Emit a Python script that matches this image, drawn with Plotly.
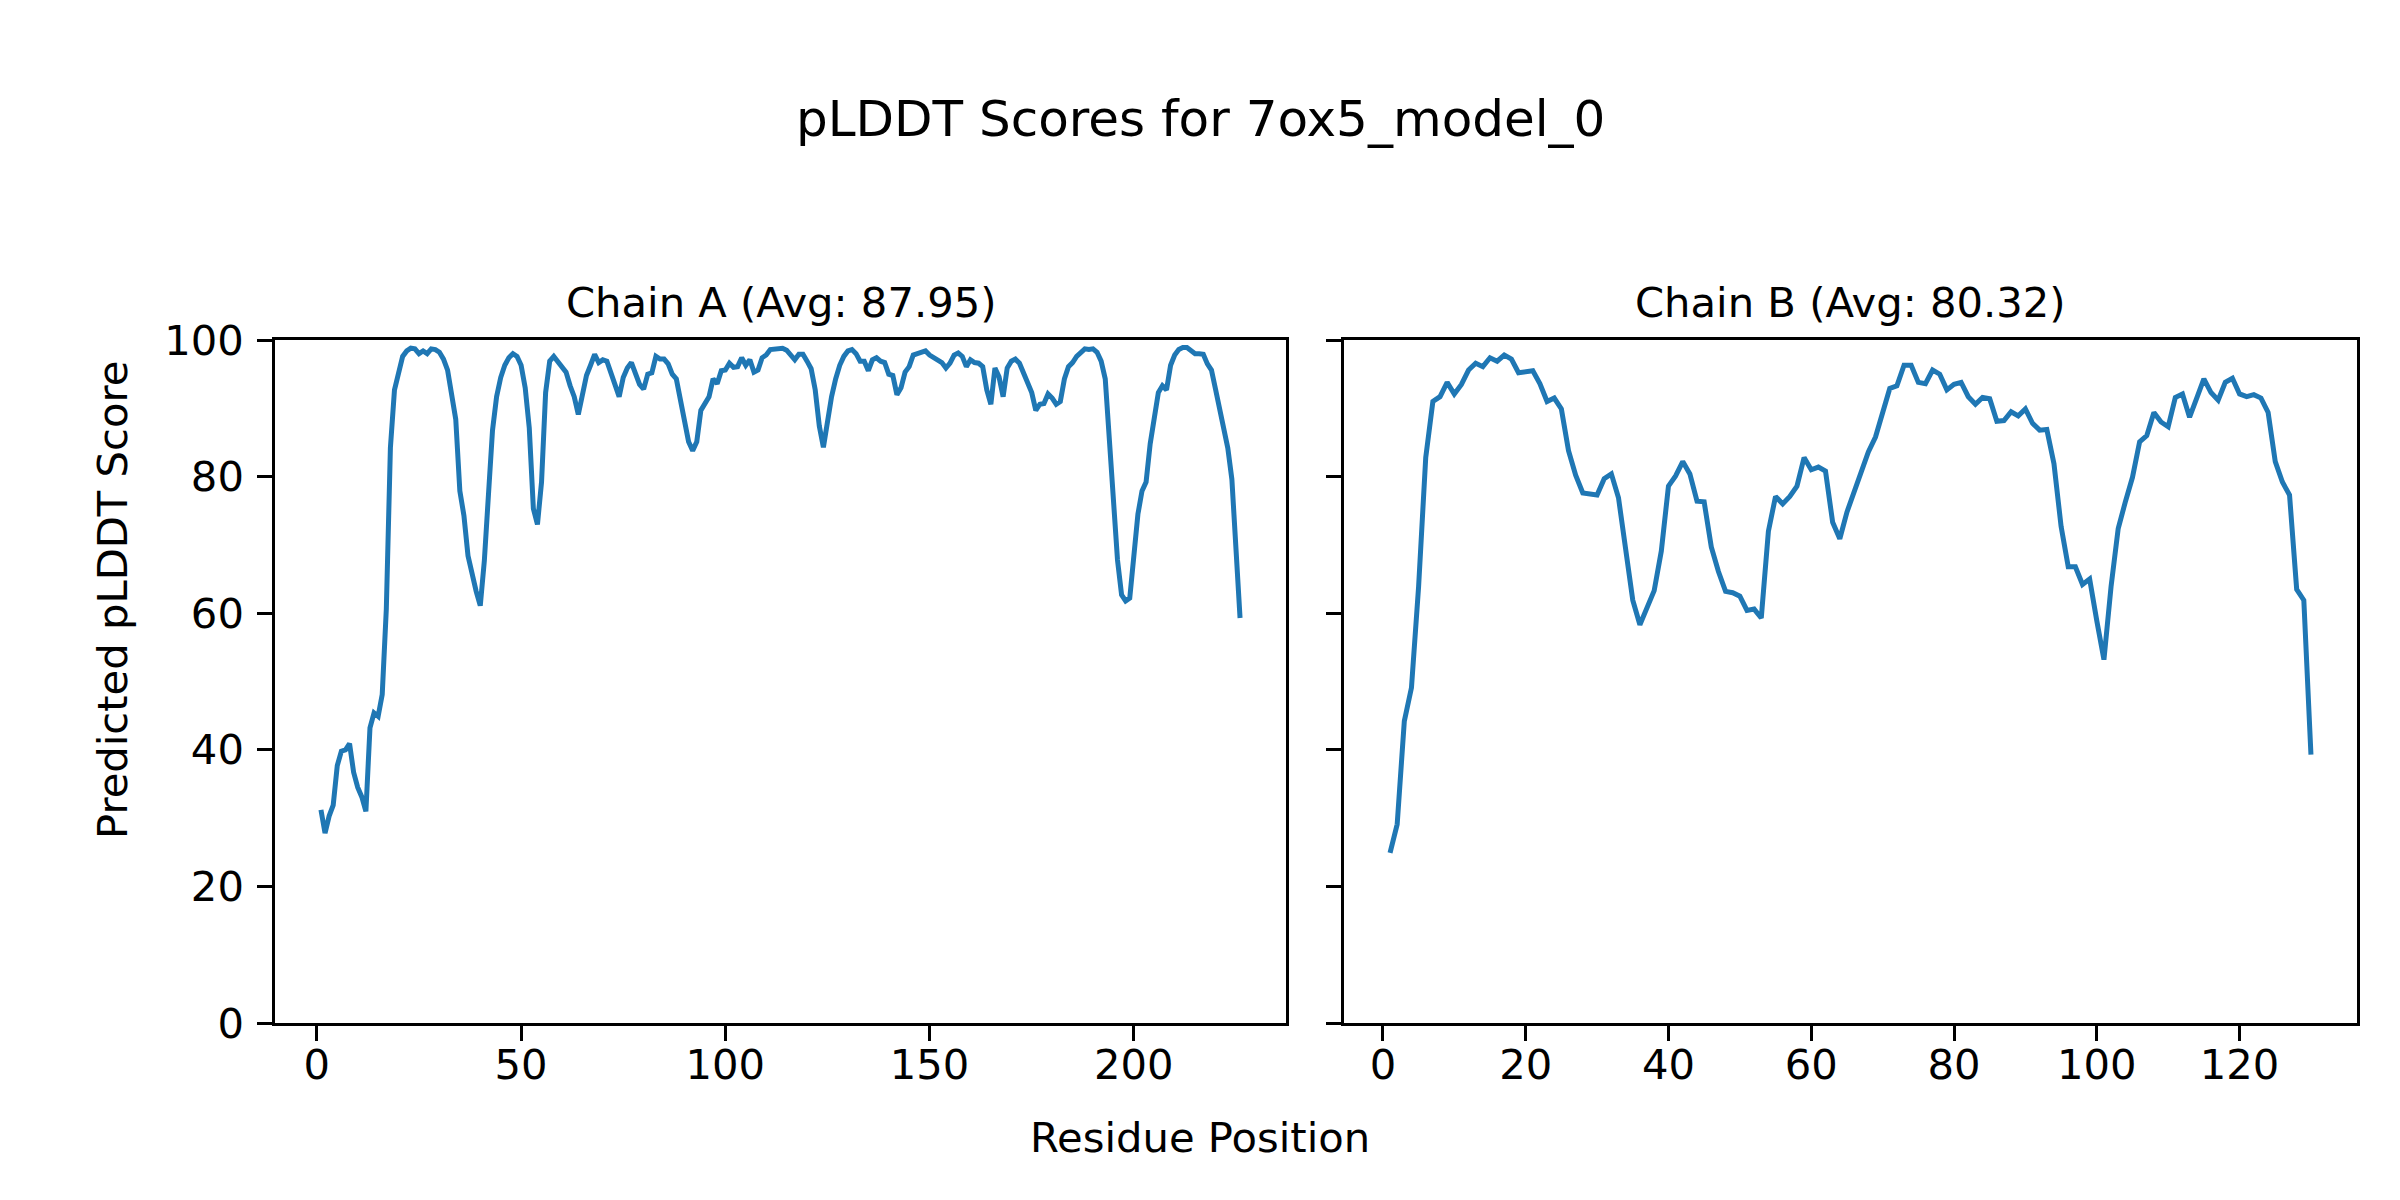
import plotly.graph_objects as go

# ---------------- data ----------------
chain_a_scores = [
    31.2, 27.8, 30.3, 31.9, 37.7, 39.8, 40.0, 40.9, 36.7, 34.5,
    33.1, 31.0, 43.2, 45.4, 44.9, 48.1, 60.6, 84.2, 92.7, 95.6,
    97.6, 98.4, 98.8, 98.7, 98.0, 98.4, 98.0, 98.7, 98.6, 98.2,
    97.2, 95.6, 91.7, 88.4, 77.9, 74.3, 68.4, 65.5, 63.2, 61.1,
    67.7, 77.3, 86.8, 91.7, 94.5, 96.3, 97.4, 98.0, 97.6, 96.3,
    93.0, 87.1, 75.3, 73.0, 79.2, 92.3, 96.9, 97.6, 96.9, 96.1,
    95.3, 93.3, 91.7, 89.1, 92.0, 94.8, 96.3, 97.9, 96.7, 97.1,
    96.9, 95.3, 93.6, 91.7, 94.5, 95.9, 96.7, 95.3, 93.5, 92.8,
    95.0, 95.2, 97.6, 97.2, 97.2, 96.5, 95.0, 94.3, 91.0, 87.8,
    85.1, 83.8, 85.1, 89.7, 90.7, 91.7, 94.3, 93.6, 95.5, 95.6,
    96.6, 96.0, 96.1, 97.4, 96.3, 97.1, 95.3, 95.6, 97.4, 97.8,
    98.6, 98.7, 98.7, 98.8, 98.5, 97.9, 97.1, 97.9, 97.9, 96.9,
    95.8, 92.7, 87.4, 84.3, 88.1, 91.7, 94.3, 96.3, 97.6, 98.4,
    98.6, 98.0, 96.9, 96.9, 95.5, 97.1, 97.4, 96.9, 96.7, 95.0,
    94.8, 92.0, 93.0, 95.3, 96.1, 97.8, 98.0, 98.2, 98.4, 97.8,
    97.4, 97.1, 96.7, 95.9, 96.6, 97.8, 98.1, 97.6, 96.1, 97.1,
    96.7, 96.6, 96.1, 92.7, 90.6, 95.9, 94.6, 91.7, 95.9, 96.9,
    97.2, 96.6, 95.3, 94.0, 92.3, 89.7, 90.6, 90.7, 92.1, 91.5,
    90.6, 91.0, 94.3, 96.1, 96.7, 97.6, 98.1, 98.7, 98.6, 98.7,
    98.2, 96.9, 94.3, 85.5, 74.3, 67.8, 62.7, 61.8, 62.2, 69.4,
    74.5, 77.9, 79.2, 84.8, 89.1, 92.3, 93.3, 92.7, 96.3, 97.8,
    98.6, 98.9, 98.9, 98.4, 98.0, 98.0, 97.9, 96.5, 95.6, 92.8,
    89.7, 86.8, 84.2, 79.6, 69.7, 59.3,
]

chain_b_scores = [
    24.9, 29.1, 44.2, 49.1, 63.9, 82.8, 91.0, 91.7, 93.8, 92.1,
    93.5, 95.6, 96.6, 96.1, 97.4, 96.9, 97.8, 97.2, 95.2, 95.3,
    95.5, 93.6, 91.0, 91.5, 89.9, 83.8, 80.2, 77.6, 77.5, 77.3,
    79.7, 80.4, 76.9, 69.4, 61.9, 58.3, 60.9, 63.3, 69.1, 78.6,
    80.1, 82.2, 80.4, 76.4, 76.3, 69.7, 66.1, 63.2, 63.0, 62.5,
    60.4, 60.6, 59.3, 72.0, 77.1, 76.0, 77.1, 78.6, 82.8, 81.0,
    81.4, 80.8, 73.3, 70.9, 74.8, 77.6, 80.5, 83.6, 85.8, 89.4,
    92.9, 93.3, 96.3, 96.3, 93.8, 93.6, 95.6, 95.0, 92.7, 93.5,
    93.8, 91.7, 90.6, 91.6, 91.4, 88.1, 88.2, 89.5, 88.9, 89.9,
    87.8, 86.8, 86.9, 81.9, 72.7, 66.8, 66.8, 64.2, 65.0, 58.9,
    53.2, 63.9, 72.4, 76.3, 79.9, 85.1, 86.0, 89.4, 88.0, 87.3,
    91.6, 92.1, 88.7, 91.5, 94.3, 92.3, 91.2, 93.8, 94.4, 92.1,
    91.7, 92.0, 91.5, 89.4, 82.2, 79.2, 77.3, 63.5, 61.9, 39.3,
]

chain_a_positions = list(range(1, len(chain_a_scores) + 1))
chain_b_positions = list(range(1, len(chain_b_scores) + 1))

suptitle = "pLDDT Scores for 7ox5_model_0"
chain_a_title = "Chain A (Avg: 87.95)"
chain_b_title = "Chain B (Avg: 80.32)"
x_label = "Residue Position"
y_label = "Predicted pLDDT Score"

chain_a_xticks = [0, 50, 100, 150, 200]
chain_b_xticks = [0, 20, 40, 60, 80, 100, 120]
y_ticks = [0, 20, 40, 60, 80, 100]

# ---------------- figure ----------------
W, H = 2400, 1200
OFF = 8  # page body margin compensation (px)
FONT = "DejaVu Sans"
LINE_COLOR = "#1f77b4"


def fx(px):
    return (px - OFF) / W


def fy(py):
    return 1 - (py - OFF) / H


fig = go.Figure()
fig.add_trace(go.Scatter(
    x=chain_a_positions, y=chain_a_scores, mode="lines",
    line=dict(color=LINE_COLOR, width=5), xaxis="x", yaxis="y",
    hoverinfo="skip"))
fig.add_trace(go.Scatter(
    x=chain_b_positions, y=chain_b_scores, mode="lines",
    line=dict(color=LINE_COLOR, width=5), xaxis="x2", yaxis="y2",
    hoverinfo="skip"))

axis_common = dict(
    showline=True, linecolor="black", linewidth=3.3, mirror=True,
    ticks="outside", ticklen=14.6, tickwidth=3.3, tickcolor="black",
    showgrid=False, zeroline=False, automargin=False,
    tickfont=dict(family=FONT, size=41.7, color="black"),
)

ydom = [fy(1023), fy(340)]

fig.update_layout(
    width=W, height=H, autosize=False,
    margin=dict(l=0, r=0, t=0, b=0, pad=0),
    paper_bgcolor="white", plot_bgcolor="white",
    showlegend=False,
    font=dict(family=FONT, color="black"),
    xaxis=dict(domain=[fx(275), fx(1286)], range=[-10.25, 237.25],
               tickmode="array", tickvals=chain_a_xticks, anchor="y",
               ticklabelstandoff=-12, **axis_common),
    yaxis=dict(domain=ydom, range=[0, 100], tickmode="array",
               tickvals=y_ticks, anchor="x", ticklabelstandoff=5,
               **axis_common),
    xaxis2=dict(domain=[fx(1344), fx(2357)], range=[-5.45, 136.45],
                tickmode="array", tickvals=chain_b_xticks, anchor="y2",
                ticklabelstandoff=-12, **axis_common),
    yaxis2=dict(domain=ydom, range=[0, 100], tickmode="array",
                tickvals=y_ticks, anchor="x2", showticklabels=False,
                **axis_common),
)

annotations = [
    dict(text=suptitle, x=fx(1200), y=fy(119), xref="paper", yref="paper",
         xanchor="center", yanchor="middle", showarrow=False,
         font=dict(family=FONT, size=50, color="black")),
    dict(text=chain_a_title, x=fx((275 + 1286) / 2), y=fy(302),
         xref="paper", yref="paper", xanchor="center", yanchor="middle",
         showarrow=False, font=dict(family=FONT, size=41.7, color="black")),
    dict(text=chain_b_title, x=fx((1344 + 2357) / 2), y=fy(302),
         xref="paper", yref="paper", xanchor="center", yanchor="middle",
         showarrow=False, font=dict(family=FONT, size=41.7, color="black")),
    dict(text=x_label, x=fx(1200), y=fy(1137), xref="paper", yref="paper",
         xanchor="center", yanchor="middle", showarrow=False,
         font=dict(family=FONT, size=41.7, color="black")),
    dict(text=y_label, x=fx(112), y=fy(600), xref="paper", yref="paper",
         xanchor="center", yanchor="middle", showarrow=False, textangle=-90,
         font=dict(family=FONT, size=41.7, color="black")),
]
fig.update_layout(annotations=annotations)

fig.write_html("out.html", config={"responsive": False})
